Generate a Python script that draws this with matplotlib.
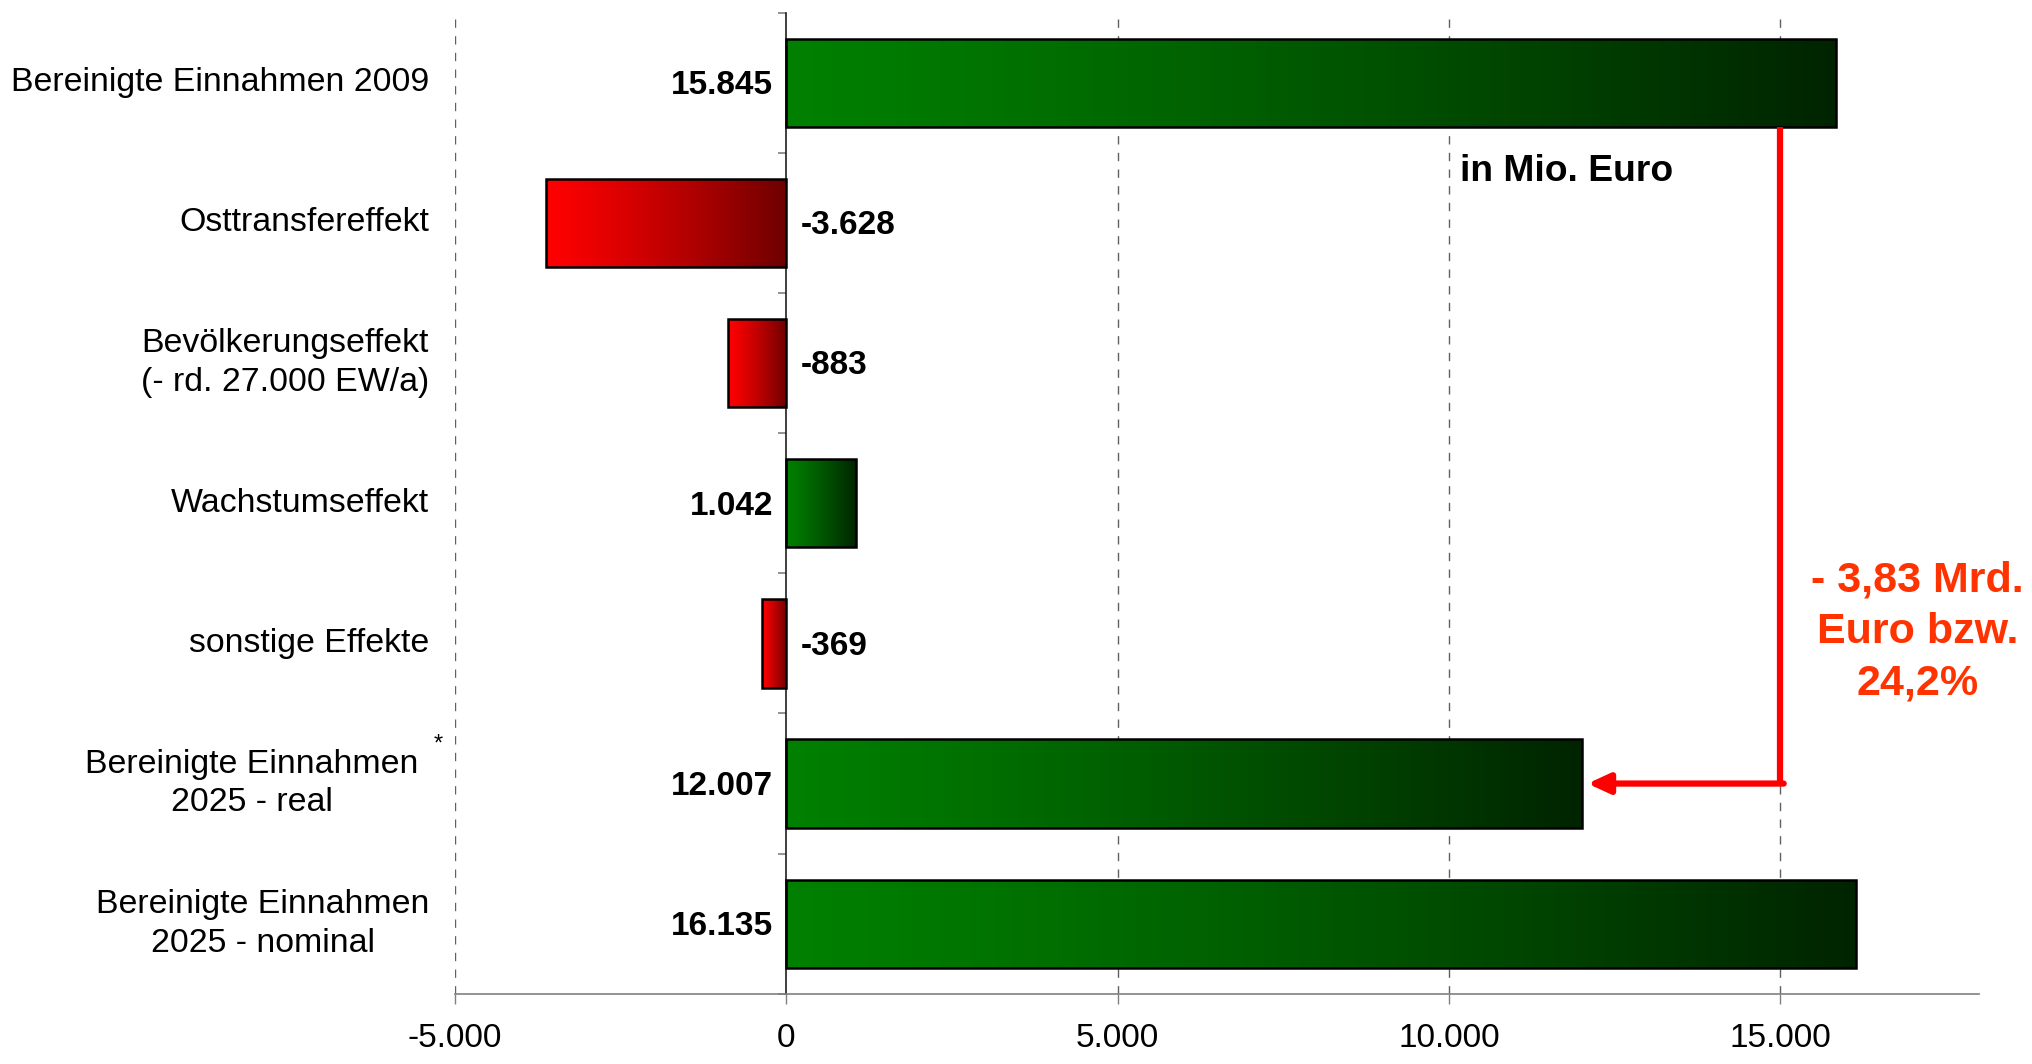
import numpy as np
import matplotlib
matplotlib.use("Agg")
from matplotlib import pyplot as plt
from matplotlib import transforms
from matplotlib.colors import to_rgb

plt.rcParams['font.family'] = ['Liberation Sans', 'DejaVu Sans']

categories = ["Bereinigte Einnahmen 2009", "Osttransfereffekt",
              "Bevölkerungseffekt\n(- rd. 27.000 EW/a)", "Wachstumseffekt",
              "sonstige Effekte", "Bereinigte Einnahmen\n2025 - real",
              "Bereinigte Einnahmen\n2025 - nominal"]
values = [15845, -3628, -883, 1042, -369, 12007, 16135]
value_labels = ["15.845", "-3.628", "-883", "1.042", "-369", "12.007", "16.135"]
xticks = [-5000, 0, 5000, 10000, 15000]
xtick_labels = ["-5.000", "0", "5.000", "10.000", "15.000"]
unit_text = "in Mio. Euro"
diff_text = "- 3,83 Mrd.\nEuro bzw.\n24,2%"

green = (to_rgb("#008000"), to_rgb("#002400"))
red = (to_rgb("#FF0000"), to_rgb("#6E0000"))

fig = plt.figure(figsize=(20.32, 10.64), dpi=100)
ax = fig.add_axes([0.224, 0.066, 0.75, 0.922])

y = np.arange(len(categories))
bars = ax.barh(y, values, height=0.63, facecolor='none', edgecolor='black',
               linewidth=1.8, zorder=3)

# gradient fill, clipped to each bar
t = np.linspace(0, 1, 256) ** 1.2
for bar, v in zip(bars, values):
    c0, c1 = green if v > 0 else red
    grad = np.array([[(1 - s) * np.array(c0) + s * np.array(c1) for s in t]])
    x0, yb = bar.get_x(), bar.get_y()
    w, h = bar.get_width(), bar.get_height()
    xl, xr = min(x0, x0 + w), max(x0, x0 + w)
    im = ax.imshow(grad, extent=[xl, xr, yb + h, yb], aspect='auto',
                   interpolation='bilinear', zorder=2)
    im.set_clip_path(bar)

ax.set_xlim(-5000, 18000)
ax.set_ylim(len(categories) - 0.5, -0.5)
ax.set_aspect('auto')

# value labels
for yi, v, lab in zip(y, values, value_labels):
    if v > 0:
        ax.text(-200, yi + 0.02, lab, ha='right', va='center', fontsize=24,
                fontweight='bold', zorder=4)
    else:
        ax.text(220, yi + 0.02, lab, ha='left', va='center', fontsize=24,
                fontweight='bold', zorder=4)

# category labels at the left of the axes
trans = transforms.blended_transform_factory(ax.transAxes, ax.transData)
for yi, cat in zip(y, categories):
    xpos = -0.024 if yi == 5 else -0.017
    ax.text(xpos, yi, cat, transform=trans, ha='right', va='center',
            multialignment='center', fontsize=24.4, linespacing=1.32)
ax.text(-0.011, 4.72, "*", transform=trans, ha='center', va='center',
        fontsize=17)

# spines and ticks
ax.spines['top'].set_visible(False)
ax.spines['right'].set_visible(False)
ax.spines['left'].set_position(('data', 0))
ax.spines['left'].set_color('#202020')
ax.spines['left'].set_linewidth(1.2)
ax.spines['bottom'].set_color('#808080')
ax.spines['bottom'].set_linewidth(1.2)
ax.set_yticks(np.arange(len(categories) + 1) - 0.5)
ax.set_yticklabels([])
ax.tick_params(axis='y', direction='out', length=6, color='#808080', width=1.2)
ax.set_xticks(xticks)
ax.set_xticklabels(xtick_labels, fontsize=24)
ax.tick_params(axis='x', direction='out', length=7, pad=14, color='#808080',
               width=1)
for xt in xticks:
    if xt != 0:
        ax.axvline(xt, color='#606060', linewidth=1, linestyle=(0, (6, 6)),
                   zorder=1)

ax.text(10170, 0.63, unit_text, ha='left', va='center', fontsize=26.8,
        fontweight='bold')

# red bracket with arrow
top_y = bars[0].get_y() + bars[0].get_height()
ax.plot([15000, 15000], [top_y, 5.0], color='#FF0000', linewidth=4.5,
        solid_capstyle='butt', zorder=5)
ax.annotate("", xy=(12090, 5.0), xytext=(15050, 5.0),
            arrowprops=dict(arrowstyle='-|>,head_length=1.3,head_width=0.6',
                            color='#FF0000', linewidth=4.5, shrinkA=0,
                            shrinkB=0), zorder=5)
ax.text(17070, 3.92, diff_text, ha='center', va='center', fontsize=31,
        fontweight='bold', color='#FF3300', linespacing=1.38, clip_on=False)

fig.savefig("out.png", dpi=100)
